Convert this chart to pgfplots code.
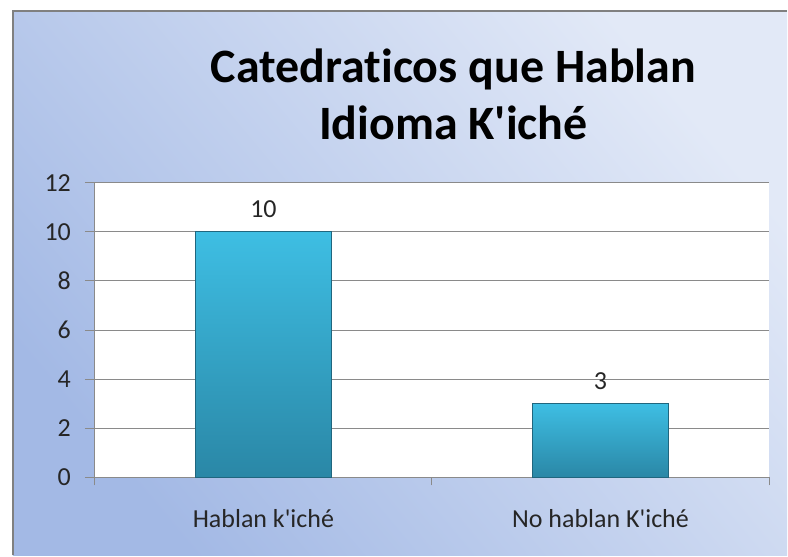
\documentclass[border=0pt]{standalone}
\usepackage{pgfplots}
\pgfplotsset{compat=1.18}
\usepackage{fontspec}
\setmainfont[Ligatures={NoCommon}]{Carlito}
\definecolor{bgdark}{RGB}{163,185,229}
\definecolor{bglight}{RGB}{226,233,247}
\definecolor{barlight}{RGB}{62,190,227}
\definecolor{bardark}{RGB}{42,135,166}
\definecolor{baredge}{RGB}{32,102,126}
\definecolor{gridgray}{RGB}{138,138,138}
\definecolor{framegray}{RGB}{128,128,128}

\begin{document}
\begin{tikzpicture}[x=0.75pt,y=0.75pt]
% background (pixel coordinates, y up)
\fill[white] (0,0) rectangle (788,556);
\shade[top color=bglight, bottom color=bgdark, shading angle=-50] (13,0) rectangle (788,545);
\draw[framegray, line width=1.5pt] (13,0) -- (13,545) -- (788,545);
\node[font=\fontsize{36}{43}\selectfont\bfseries, anchor=base] at (454,473) {Catedraticos que Hablan};
\node[font=\fontsize{36}{43}\selectfont\bfseries, anchor=base] at (454,416) {Idioma K\textquotesingle iché};

\begin{axis}[
  at={(71.25pt,58.5pt)}, anchor=south west,
  width=506.25pt, height=221.25pt,
  scale only axis,
  xmin=-0.5, xmax=1.5,
  ymin=0, ymax=12,
  ytick={0,2,...,12},
  xtick={0,1},
  xticklabels={Hablan k\textquotesingle iché, No hablan K\textquotesingle iché},
  minor xtick={-0.5,0.5,1.5},
  xtick style={draw=none},
  minor x tick style={draw=gridgray, line width=0.75pt},
  ytick style={draw=gridgray, line width=0.75pt},
  tick align=outside,
  major tick length=7.5pt,
  minor tick length=6pt,
  axis x line*=bottom,
  axis y line*=left,
  axis line style={draw=gridgray, line width=0.75pt, -},
  axis background/.style={fill=white},
  ymajorgrids,
  grid style={draw=gridgray, line width=0.75pt},
  ticklabel style={font=\fontsize{19.5}{23}\selectfont, text=black!85},
  /pgf/number format/assume math mode=true,
  yticklabel style={xshift=-7pt},
  xticklabel style={yshift=-13pt},
  ybar, bar width=102.75pt, bar shift=0pt,
  nodes near coords,
  nodes near coords style={font=\fontsize{19.5}{23}\selectfont, text=black!85, yshift=7pt},
]
\addplot[draw=baredge, line width=0.75pt, top color=barlight, bottom color=bardark] coordinates {(0,10)};
\addplot[draw=baredge, line width=0.75pt, top color=barlight, bottom color=bardark] coordinates {(1,3)};
\end{axis}
\end{tikzpicture}
\end{document}
